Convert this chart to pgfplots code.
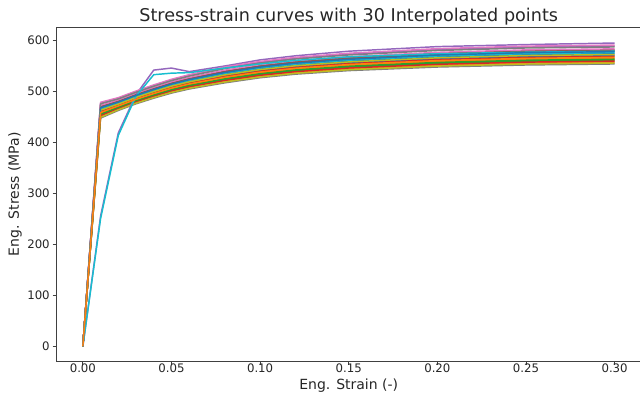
\documentclass[border=0pt]{standalone}
\usepackage{pgfplots}
\pgfplotsset{compat=1.18}
\usepackage{pgfplotstable}
\usepackage{fontspec}
\setmainfont{DejaVu Sans}
\definecolor{tA}{HTML}{1F77B4}
\definecolor{tB}{HTML}{FF7F0E}
\definecolor{tC}{HTML}{2CA02C}
\definecolor{tD}{HTML}{D62728}
\definecolor{tE}{HTML}{9467BD}
\definecolor{tF}{HTML}{8C564B}
\definecolor{tG}{HTML}{E377C2}
\definecolor{tH}{HTML}{7F7F7F}
\definecolor{tI}{HTML}{BCBD22}
\definecolor{tJ}{HTML}{17BECF}
\pgfplotscreateplotcyclelist{tab}{{tA},{tB},{tC},{tD},{tE},{tF},{tG},{tH},{tI},{tJ}}
\pgfplotstableread{
e c0 c1 c2 c3 c4 c5 c6 c7 c8 c9 c10 c11 c12 c13 c14 c15 c16 c17 c18 c19 c20 c21
0.00 0 0 0 0 0 0 0 0 0 0 0 0 0 0 0 0 0 0 0 0 0 0
0.01 464.1 448.6 453.2 447 476.5 470.3 471.8 450.1 456.3 465.6 461.0 451.7 454.8 459.4 255 468.7 478 457.9 462.5 250 467.2 474.9
0.02 475.8 463.3 467.0 462 485.8 480.8 482.0 464.5 469.5 477.0 473.3 465.8 468.3 472.0 418 479.5 487 470.8 474.5 413 478.3 484.5
0.03 488.8 476.3 480.0 475 498.8 493.8 495.0 477.5 482.5 490.0 486.3 478.8 481.3 485.0 493 492.5 500 483.8 487.5 490 491.3 497.5
0.04 500.3 487.3 491.2 486 510.7 505.5 506.8 488.6 493.8 501.6 497.7 489.9 492.5 496.4 541 504.2 512 495.1 499.0 532 502.9 509.4
0.05 510.9 497.4 501.4 496 521.7 516.3 517.6 498.7 504.1 512.2 508.2 500.1 502.8 506.8 545 514.9 523 505.5 509.5 535 513.6 520.3
0.06 519.4 505.4 509.6 504 530.6 525.0 526.4 506.8 512.4 520.8 516.6 508.2 511.0 515.2 538 523.6 532 513.8 518.0 536 522.2 529.2
0.08 533.1 517.6 522.2 516 545.5 539.3 540.8 519.1 525.3 534.6 530.0 520.7 523.8 528.4 549 537.7 547 526.9 531.5 545 536.2 543.9
0.10 543.6 527.6 532.4 526 556.4 550.0 551.6 529.2 535.6 545.2 540.4 530.8 534.0 538.8 561 548.4 558 537.2 542.0 553 546.8 554.8
0.12 551.2 534.7 539.6 533 564.4 557.8 559.4 536.3 542.9 552.8 547.9 538.0 541.3 546.2 569 556.1 566 544.6 549.5 560 554.5 562.7
0.15 558.7 541.7 546.8 540 572.3 565.5 567.2 543.4 550.2 560.4 555.3 545.1 548.5 553.6 578 563.8 574 551.9 557.0 567 562.1 570.6
0.20 566.8 548.8 554.2 547 581.2 574.0 575.8 550.6 557.8 568.6 563.2 552.4 556.0 561.4 587 572.2 583 559.6 565.0 573 570.4 579.4
0.25 571.4 552.9 558.4 551 586.2 578.8 580.6 554.7 562.1 573.2 567.7 556.6 560.3 565.8 591 576.9 588 564.0 569.5 576 575.1 584.3
0.30 573.4 554.9 560.4 553 588.2 580.8 582.6 556.7 564.1 575.2 569.7 558.6 562.3 567.8 594 578.9 590 566.0 571.5 578 577.1 586.3
}\data
\begin{document}
\begin{tikzpicture}
\useasboundingbox (-42.2pt,-28.1pt) rectangle (437.8pt,271.15pt);
\begin{axis}[
  at={(0pt,0pt)}, anchor=south west,
  scale only axis, width=438.7pt, height=250.65pt,
  xmin=-0.015, xmax=0.315, ymin=-29.75, ymax=624.75,
  xtick={0,0.05,0.1,0.15,0.2,0.25,0.3},
  xticklabels={0.00,0.05,0.10,0.15,0.20,0.25,0.30},
  ytick={0,100,200,300,400,500,600},
  yticklabels={0,100,200,300,400,500,600},
  tick align=outside, xtick pos=bottom, ytick pos=left,
  major tick length=2.7pt,
  tick style={black!75, line width=0.6pt},
  axis line style={black!75, line width=0.6pt},
  ticklabel style={font=\fontsize{8.8}{10}\selectfont, text=black!85},
  xticklabel style={yshift=4.3pt},
  yticklabel style={xshift=1.3pt},
  title={Stress-strain curves with 30 Interpolated points},
  title style={at={(axis description cs:0.5,1)}, anchor=base, yshift=-2pt, font=\fontsize{13.2}{15}\selectfont, text=black!85},
  xlabel={Eng. Strain (-)},
  ylabel={Eng. Stress (MPa)},
  xlabel style={at={(axis description cs:0.5,-0.0734)}, anchor=center, font=\fontsize{10.5}{12}\selectfont, text=black!85},
  ylabel style={at={(axis description cs:-0.0707,0.5)}, anchor=center, font=\fontsize{10.5}{12}\selectfont, text=black!85},
  cycle list name=tab,
  every axis plot/.append style={line width=1.1pt, line join=round, no markers},
]
\pgfplotsinvokeforeach{1,8,3,12,5,6,7,4,2,10,11,9,13,14,15,16,17,22,19,20,21,18}{\addplot table[x index=0, y index=#1]{\data};}
\end{axis}
\end{tikzpicture}
\end{document}
